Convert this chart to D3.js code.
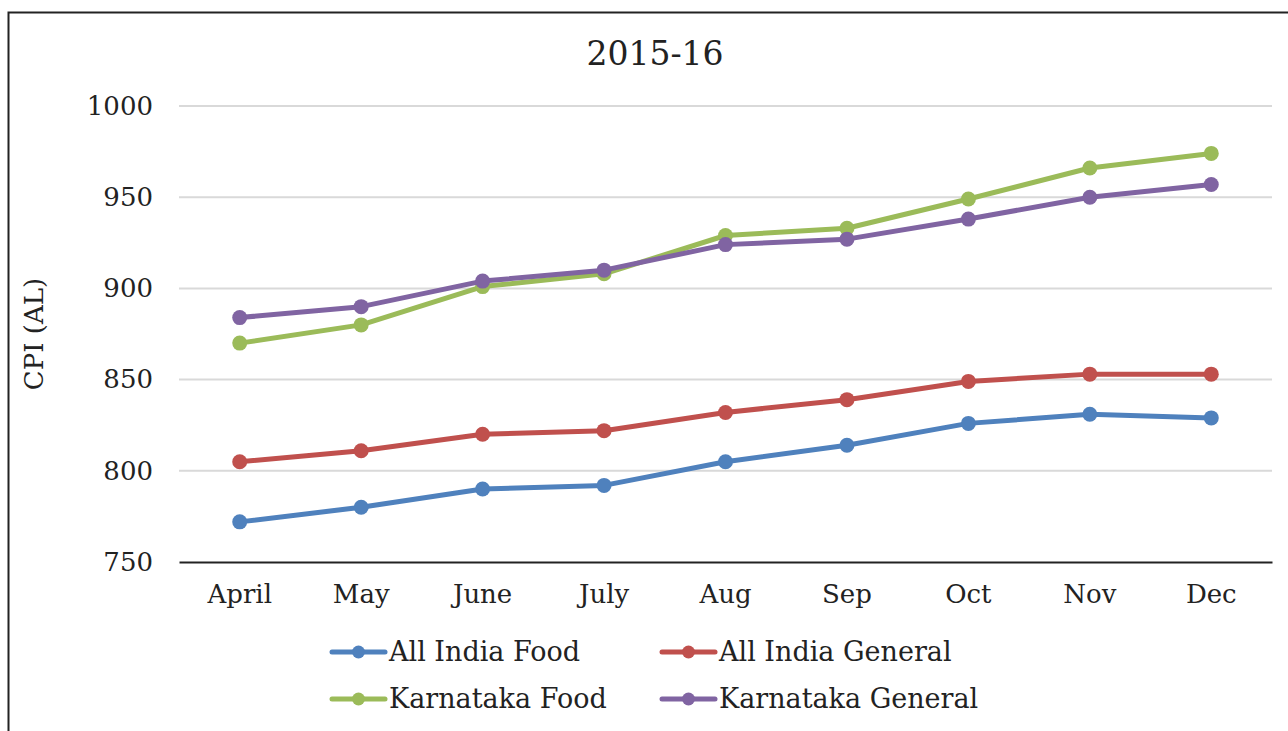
<!DOCTYPE html>
<html>
<head>
<meta charset="utf-8">
<script src="https://d3js.org/d3.v7.min.js"></script>
<style>
  body { margin: 0; background: #fff; }
  text { font-family: "DejaVu Serif", "Liberation Serif", serif; fill: #222; }
</style>
</head>
<body>
<div id="chart"></div>
<script>
const months = ['April', 'May', 'June', 'July', 'Aug', 'Sep', 'Oct', 'Nov', 'Dec'];
const allIndiaFood = [772, 780, 790, 792, 805, 814, 826, 831, 829];
const allIndiaGeneral = [805, 811, 820, 822, 832, 839, 849, 853, 853];
const karnatakaFood = [870, 880, 901, 908, 929, 933, 949, 966, 974];
const karnatakaGeneral = [884, 890, 904, 910, 924, 927, 938, 950, 957];
const yTicks = [750, 800, 850, 900, 950, 1000];

const series = [
  { name: 'All India Food', values: allIndiaFood, color: '#4f81bd' },
  { name: 'All India General', values: allIndiaGeneral, color: '#c0504d' },
  { name: 'Karnataka Food', values: karnatakaFood, color: '#9bbb59' },
  { name: 'Karnataka General', values: karnatakaGeneral, color: '#8064a2' }
];

const w = 1288, h = 731;
const plotLeft = 179, plotRight = 1272, plotTop = 106, plotBottom = 562;

const svg = d3.select('#chart').append('svg')
  .attr('width', w)
  .attr('height', h);

// frame
svg.append('path')
  .attr('d', `M8.5,${h} V12.5 H${w}`)
  .attr('fill', 'none')
  .attr('stroke', '#222')
  .attr('stroke-width', 2);

const x = d3.scaleBand().domain(months).range([plotLeft, plotRight]);
const y = d3.scaleLinear().domain([750, 1000]).range([plotBottom, plotTop]);

// gridlines
svg.append('g')
  .selectAll('line')
  .data(yTicks.slice(1))
  .join('line')
  .attr('x1', plotLeft).attr('x2', plotRight)
  .attr('y1', d => y(d)).attr('y2', d => y(d))
  .attr('stroke', '#d9d9d9')
  .attr('stroke-width', 2);

// y axis labels
const yAxis = d3.axisLeft(y).tickValues(yTicks).tickFormat(d => d).tickSize(0).tickPadding(26);
svg.append('g')
  .attr('transform', `translate(${plotLeft},0)`)
  .call(yAxis)
  .call(g => g.select('.domain').remove())
  .selectAll('text')
  .style('font-size', '26px')
  .attr('fill', '#222');

// x axis
const xAxis = d3.axisBottom(x).tickSize(0).tickPadding(23);
svg.append('g')
  .attr('transform', `translate(0,${plotBottom})`)
  .call(xAxis)
  .call(g => g.select('.domain').attr('stroke', '#222').attr('stroke-width', 2))
  .selectAll('text')
  .style('font-size', '26px')
  .attr('fill', '#222');

// title
svg.append('text')
  .attr('x', 655).attr('y', 65)
  .attr('text-anchor', 'middle')
  .style('font-size', '33px')
  .text('2015-16');

// y label
svg.append('text')
  .attr('transform', 'translate(43,334) rotate(-90)')
  .attr('text-anchor', 'middle')
  .style('font-size', '26px')
  .text('CPI (AL)');

const line = d3.line()
  .x((d, i) => x(months[i]) + x.bandwidth() / 2)
  .y(d => y(d));

const lines = svg.append('g');
series.forEach(s => {
  lines.append('path')
    .attr('d', line(s.values))
    .attr('fill', 'none')
    .attr('stroke', s.color)
    .attr('stroke-width', 5)
    .attr('stroke-linejoin', 'round');
  lines.selectAll(null)
    .data(s.values)
    .join('circle')
    .attr('cx', (d, i) => x(months[i]) + x.bandwidth() / 2)
    .attr('cy', d => y(d))
    .attr('r', 7.5)
    .attr('fill', s.color);
});

// legend
const legendPos = [[332, 652], [662, 652], [332, 699], [662, 699]];
series.forEach((s, i) => {
  const g = svg.append('g').attr('transform', `translate(${legendPos[i][0]},${legendPos[i][1]})`);
  g.append('line')
    .attr('x1', 0).attr('x2', 53)
    .attr('stroke', s.color).attr('stroke-width', 5).attr('stroke-linecap', 'round');
  g.append('circle').attr('cx', 26.5).attr('r', 6.5).attr('fill', s.color);
  g.append('text')
    .attr('x', 57).attr('y', 9)
    .style('font-size', '27px')
    .text(s.name);
});
</script>
</body>
</html>
